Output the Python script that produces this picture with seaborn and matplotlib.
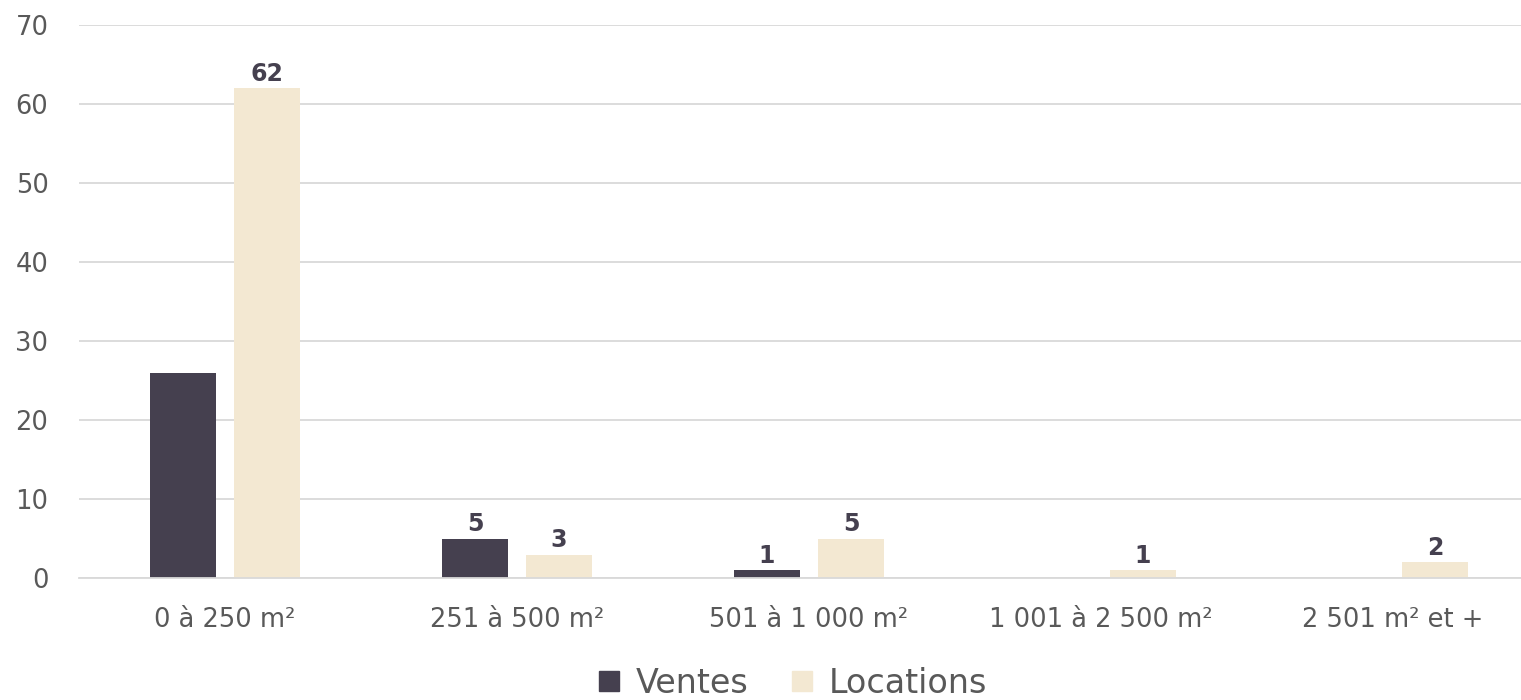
import matplotlib
matplotlib.use("Agg")
import matplotlib.pyplot as plt
import seaborn as sns
import pandas as pd
from matplotlib.lines import Line2D

categories = ["0 à 250 m²", "251 à 500 m²", "501 à 1 000 m²", "1 001 à 2 500 m²", "2 501 m² et +"]
ventes = [26, 5, 1, 0, 0]
locations = [62, 3, 5, 1, 2]
series = ["Ventes", "Locations"]
# which bars carry a value label
ventes_labelled = [False, True, True, False, False]
locations_labelled = [True, True, True, True, True]
y_ticks = [0, 10, 20, 30, 40, 50, 60, 70]

colors = {"Ventes": "#45404f", "Locations": "#f3e8d2"}
text_grey = "#595959"

df = pd.DataFrame({
    "categorie": categories * 2,
    "serie": [series[0]] * len(categories) + [series[1]] * len(categories),
    "valeur": ventes + locations,
})

sns.set_theme(style="white")
plt.rcParams["font.family"] = ["DejaVu Sans"]

fig = plt.figure(figsize=(15.21, 7.0), dpi=100)
ax = fig.add_axes([79 / 1521, 0.174, 1460 / 1521, 0.79])

sns.barplot(data=df, x="categorie", y="valeur", hue="serie", order=categories,
            hue_order=series, palette=colors, width=0.575, gap=0.21,
            saturation=1, legend=False, linewidth=0, ax=ax)

ax.set_ylim(0, 70)
ax.set_yticks(y_ticks)
ax.set_xlim(-0.5, len(categories) - 0.5)
ax.yaxis.grid(True, color="#d9d9d9", linewidth=1.3)
ax.set_axisbelow(True)
for s in ["top", "right", "left"]:
    ax.spines[s].set_visible(False)
ax.spines["bottom"].set_color("#d9d9d9")
ax.spines["bottom"].set_linewidth(1.3)
ax.set_xlabel("")
ax.set_ylabel("")
ax.tick_params(axis="both", length=0, labelsize=18.5, colors=text_grey)
ax.tick_params(axis="x", pad=21)
ax.tick_params(axis="y", pad=22)

for container, flags in zip(ax.containers, [ventes_labelled, locations_labelled]):
    labels = [f"{int(b.get_height())}" if f else "" for b, f in zip(container, flags)]
    ax.bar_label(container, labels=labels, padding=2, fontsize=17,
                 fontweight="bold", color="#45404f")

handles = [Line2D([], [], marker="s", linestyle="", markersize=14,
                  markerfacecolor=colors[s], markeredgecolor=colors[s]) for s in series]
fig.legend(handles, series, loc="center", bbox_to_anchor=(0.519, 0.024), ncol=2,
           frameon=False, fontsize=24, labelcolor=text_grey, handletextpad=0.3,
           columnspacing=1.1, handlelength=1.0)

fig.savefig("out.png", dpi=100)
